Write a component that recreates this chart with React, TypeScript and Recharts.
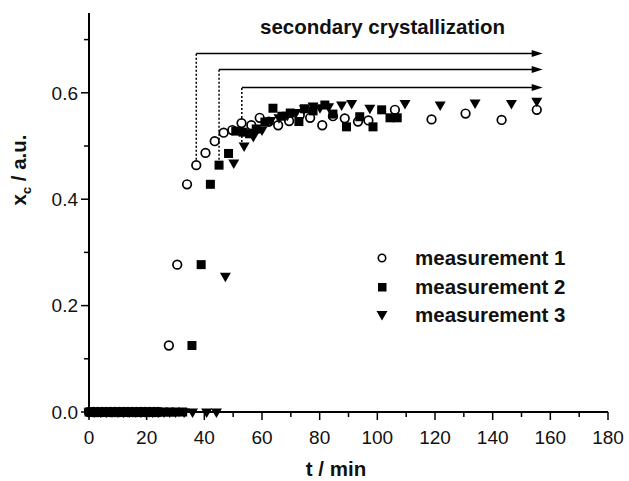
import React from 'react';
import { ScatterChart, Scatter, XAxis, YAxis, ReferenceLine, ReferenceDot } from 'recharts';

const FONT = '"Liberation Sans", Arial, Helvetica, sans-serif';

const xTicks = [0, 10, 20, 30, 40, 50, 60, 70, 80, 90, 100, 110, 120, 130, 140, 150, 160, 170, 180];
const yTicks = [0, 0.1, 0.2, 0.3, 0.4, 0.5, 0.6, 0.7];

// [t / min, x_c]
const measurement1 = [
  [0, 0], [1.5, 0], [3, 0], [4.5, 0], [6, 0], [7.5, 0], [9, 0], [10.5, 0], [12, 0], [13.5, 0],
  [15, 0], [16.5, 0], [18, 0], [19.5, 0], [21, 0], [22.5, 0], [24, 0],
  [27.7, 0.125], [30.6, 0.277], [34.0, 0.428], [37.2, 0.464], [40.4, 0.487], [43.6, 0.509],
  [46.7, 0.525], [49.7, 0.53], [52.9, 0.543], [56.3, 0.539], [59.2, 0.553], [62.4, 0.546],
  [65.6, 0.539], [69.4, 0.547], [73.1, 0.558], [76.7, 0.553], [80.9, 0.539], [84.6, 0.556],
  [88.7, 0.552], [93.3, 0.546], [96.9, 0.548], [106.1, 0.568], [118.8, 0.55], [130.6, 0.561],
  [143.1, 0.549], [155.3, 0.568],
];

const measurement2 = [
  [0, 0], [2, 0], [4, 0], [6, 0], [8, 0], [10, 0], [12, 0], [14, 0], [16, 0], [18, 0],
  [20, 0], [22, 0], [24, 0], [26, 0], [28, 0], [30, 0], [32.5, 0],
  [35.7, 0.125], [38.9, 0.277], [42.1, 0.428], [45.1, 0.464], [48.4, 0.486], [50.9, 0.528],
  [53.4, 0.526], [55.7, 0.523], [58.0, 0.532], [61.0, 0.545], [63.8, 0.571], [66.9, 0.556],
  [69.8, 0.562], [72.8, 0.546], [74.7, 0.57], [77.7, 0.566], [81.8, 0.577], [84.6, 0.56],
  [89.3, 0.536], [93.9, 0.555], [98.5, 0.536], [101.5, 0.568], [104.4, 0.553], [106.9, 0.553],
];

const measurement3 = [
  [0, 0], [2, 0], [4, 0], [6, 0], [8, 0], [10, 0], [12, 0], [14, 0], [16, 0], [18, 0],
  [20, 0], [22, 0], [24, 0], [26, 0], [28, 0], [30, 0], [33, 0], [35.9, 0], [40.8, 0], [44.2, 0],
  [47.3, 0.255], [50.2, 0.468], [53.8, 0.5], [57.0, 0.518], [60.0, 0.53], [63.0, 0.548],
  [65.9, 0.553], [68.8, 0.558], [71.8, 0.563], [74.7, 0.57], [77.7, 0.575], [80.1, 0.572],
  [83.1, 0.574], [87.6, 0.577], [91.1, 0.58], [97.4, 0.571], [109.6, 0.58], [121.8, 0.577],
  [133.9, 0.581], [146.5, 0.58], [155.3, 0.584],
];

// secondary crystallization arrows: onset time, arrow level, where the dotted drop ends
const arrowStarts = [37.2, 45.1, 53.0];
const arrowLevels = [0.674, 0.644, 0.61];
const arrowDropTo = [0.474, 0.474, 0.5];
const arrowEnd = 157;

const toPoints = (rows: number[][]) => rows.map(([t, x]) => ({ t, x }));

const OpenCircle = (p: any) => (
  <circle cx={p.cx} cy={p.cy} r={4.3} fill="#fff" stroke="#000" strokeWidth={1.7} />
);
const FilledSquare = (p: any) => (
  <rect x={p.cx - 4.5} y={p.cy - 4.5} width={9} height={9} fill="#000" />
);
const DownTriangle = (p: any) => (
  <path d={`M${p.cx - 5.5},${p.cy - 3.5} L${p.cx + 5.5},${p.cy - 3.5} L${p.cx},${p.cy + 6} Z`} fill="#000" />
);
const ArrowHead = (p: any) => (
  <path d={`M${p.cx + 1},${p.cy} L${p.cx - 10},${p.cy - 3.5} L${p.cx - 10},${p.cy + 3.5} Z`} fill="#000" />
);

function XTick({ x, y, payload }: any) {
  const major = payload.value % 20 === 0;
  return (
    <g>
      <line x1={x} y1={y} x2={x} y2={y + (major ? 8 : 5)} stroke="#000" strokeWidth={1.5} />
      {major && (
        <text x={x} y={y + 32} textAnchor="middle" fontSize={19} fontFamily={FONT} fill="#111">
          {payload.value}
        </text>
      )}
    </g>
  );
}

function YTick({ x, y, payload }: any) {
  const major = Math.round(payload.value * 10) % 2 === 0;
  return (
    <g>
      <line x1={x} y1={y} x2={x - (major ? 8 : 5)} y2={y} stroke="#000" strokeWidth={1.5} />
      {major && (
        <text x={x - 11} y={y} dy="0.36em" textAnchor="end" fontSize={19} fontFamily={FONT} fill="#111">
          {payload.value.toFixed(1)}
        </text>
      )}
    </g>
  );
}

const legendItems = [
  { name: 'measurement 1', shape: 'circle' },
  { name: 'measurement 2', shape: 'square' },
  { name: 'measurement 3', shape: 'triangle' },
];

function LegendSymbol({ shape }: { shape: string }) {
  return (
    <svg width={14} height={14} style={{ display: 'block' }}>
      {shape === 'circle' && <circle cx={7} cy={7} r={3.7} fill="#fff" stroke="#000" strokeWidth={1.6} />}
      {shape === 'square' && <rect x={3} y={3} width={8.5} height={8.5} fill="#000" />}
      {shape === 'triangle' && <path d="M1.5,3 L12.5,3 L7,12.5 Z" fill="#000" />}
    </svg>
  );
}

export default function App() {
  return (
    <div style={{ position: 'absolute', left: 0, top: 0, width: 629, height: 481, background: '#fff', fontFamily: FONT }}>
      <ScatterChart width={629} height={481} margin={{ top: 13, right: 21, bottom: 0, left: 0 }}>
        <XAxis
          type="number"
          dataKey="t"
          domain={[0, 180]}
          ticks={xTicks}
          interval={0}
          tickSize={0}
          tickMargin={0}
          tickLine={false}
          tick={<XTick />}
          axisLine={{ stroke: '#000', strokeWidth: 2 }}
          height={69}
          label={{
            content: () => (
              <text x={336} y={476} textAnchor="middle" fontSize={20.5} fontWeight="bold" fontFamily={FONT} fill="#111">
                t / min
              </text>
            ),
          }}
        />
        <YAxis
          type="number"
          dataKey="x"
          domain={[0, 0.75]}
          ticks={yTicks}
          interval={0}
          tickSize={0}
          tickMargin={0}
          tickLine={false}
          tick={<YTick />}
          axisLine={{ stroke: '#000', strokeWidth: 2 }}
          width={89}
          label={{
            content: () => (
              <text transform="translate(26,170) rotate(-90)" textAnchor="middle" fontSize={20.5} fontWeight="bold" fontFamily={FONT} fill="#111">
                x<tspan dy={5} fontSize={13}>c</tspan>
                <tspan dy={-5}> / a.u.</tspan>
              </text>
            ),
          }}
        />
        {arrowStarts.map((s, i) => (
          <ReferenceLine
            key={`drop${i}`}
            segment={[{ x: s, y: arrowDropTo[i] }, { x: s, y: arrowLevels[i] }]}
            stroke="#000"
            strokeWidth={1.5}
            strokeDasharray="2 2"
          />
        ))}
        {arrowStarts.map((s, i) => (
          <ReferenceLine
            key={`arrow${i}`}
            segment={[{ x: s, y: arrowLevels[i] }, { x: arrowEnd - 2, y: arrowLevels[i] }]}
            stroke="#000"
            strokeWidth={1.5}
          />
        ))}
        {arrowLevels.map((lv, i) => (
          <ReferenceDot key={`head${i}`} x={arrowEnd} y={lv} r={4} shape={ArrowHead} />
        ))}
        <Scatter name="measurement 1" data={toPoints(measurement1)} shape={OpenCircle} isAnimationActive={false} />
        <Scatter name="measurement 2" data={toPoints(measurement2)} shape={FilledSquare} isAnimationActive={false} />
        <Scatter name="measurement 3" data={toPoints(measurement3)} shape={DownTriangle} isAnimationActive={false} />
      </ScatterChart>

      <div
        style={{
          position: 'absolute',
          left: 0,
          width: 765,
          top: 17,
          textAlign: 'center',
          fontSize: 20.5,
          lineHeight: '20.5px',
          fontWeight: 'bold',
          color: '#111',
        }}
      >
        secondary crystallization
      </div>

      <div style={{ position: 'absolute', left: 375, top: 244 }}>
        {legendItems.map((it) => (
          <div key={it.name} style={{ display: 'flex', alignItems: 'center', height: 28.5 }}>
            <LegendSymbol shape={it.shape} />
            <span style={{ marginLeft: 26, fontSize: 20.5, lineHeight: '20.5px', fontWeight: 'bold', color: '#111' }}>{it.name}</span>
          </div>
        ))}
      </div>
    </div>
  );
}
